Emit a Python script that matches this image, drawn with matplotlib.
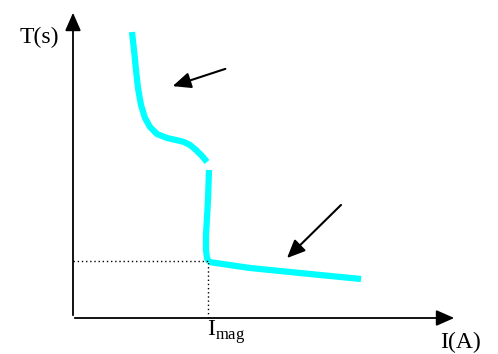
import numpy as np
import matplotlib.pyplot as plt

plt.rcParams['font.family'] = ['Liberation Serif', 'DejaVu Serif']

# curve points (I, T) in arbitrary units, origin at axis corner
seg1_i = [59, 61, 63, 65, 68, 72, 77, 84, 94, 103, 111, 117, 123, 129, 134]
seg1_t = [286, 268, 248, 230, 213, 200, 191, 184, 180, 178, 176, 173, 168, 162, 156]
seg2_i = [136, 135.5, 135, 134, 133, 133, 134, 136]
seg2_t = [148, 133, 118, 100, 83, 68, 60, 56]
seg3_i = [136, 177, 227, 288]
seg3_t = [56, 50, 45, 39]
i_mag = 135
t_mag = 57

fig = plt.figure(figsize=(4.98, 3.54), dpi=100)
ax = fig.add_axes([0, 0, 1, 1])
ax.set_xlim(-73, 425)
ax.set_ylim(-36, 318)
ax.axis('off')

head = '-|>,head_length=0.5,head_width=0.22'

# axes with arrow heads
ax.annotate('', xy=(0, 308), xytext=(0, 0),
            arrowprops=dict(arrowstyle=head, color='black', lw=1.3, mutation_scale=22))
ax.annotate('', xy=(384, 0), xytext=(-1, 0),
            arrowprops=dict(arrowstyle=head, color='black', lw=1.3, mutation_scale=22))

# the tripping curve
for xs, ys in [(seg1_i, seg1_t), (seg2_i, seg2_t), (seg3_i, seg3_t)]:
    ax.plot(xs, ys, color='#00ffff', lw=4.5, solid_capstyle='butt',
            solid_joinstyle='round')

# dotted guides
ax.plot([0, i_mag], [t_mag, t_mag], color='black', lw=1, ls=(0, (1, 2)))
ax.plot([i_mag, i_mag], [0, t_mag], color='black', lw=1, ls=(0, (1, 2)))

# pointer arrows
ax.annotate('', xy=(97, 231), xytext=(155, 250),
            arrowprops=dict(arrowstyle=head, color='black', lw=1.5, mutation_scale=22))
ax.annotate('', xy=(212, 58), xytext=(270, 115),
            arrowprops=dict(arrowstyle=head, color='black', lw=1.5, mutation_scale=22))

# labels
ax.text(-34, 281, 'T(s)', fontsize=17, ha='center', va='center')
ax.text(387, -24, 'I(A)', fontsize=17, ha='center', va='center')
ax.text(i_mag - 1, -14, r'I$_{\mathregular{mag}}$', fontsize=17, ha='left', va='center')

fig.savefig('out.png', dpi=100)
